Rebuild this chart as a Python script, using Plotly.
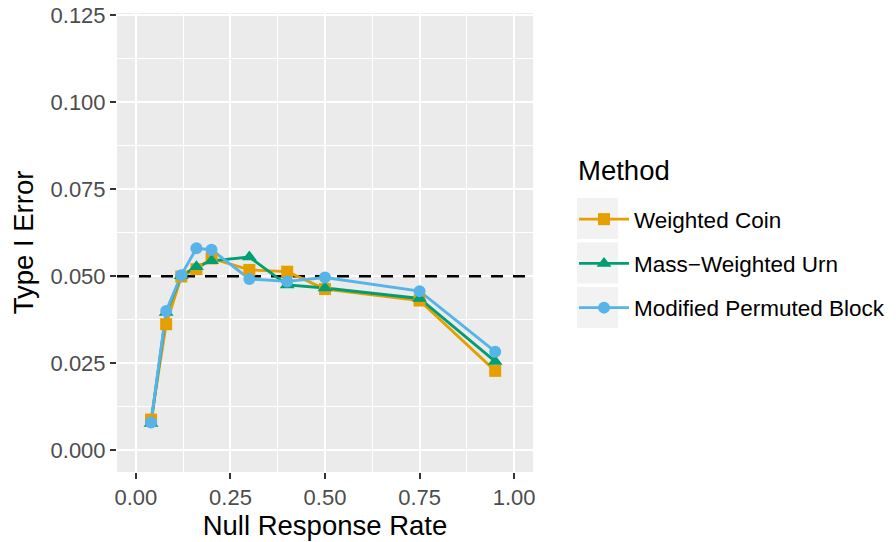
import plotly.graph_objects as go

# Null response rates evaluated in the simulation
null_rate = [0.04, 0.08, 0.12, 0.16, 0.20, 0.30, 0.40, 0.50, 0.75, 0.95]

# Estimated type I error for each randomization method
weighted_coin = [0.0088, 0.0362, 0.0499, 0.0520, 0.0551, 0.0518, 0.0513, 0.0463, 0.0430, 0.0228]
mass_weighted_urn = [0.0077, 0.0396, 0.0501, 0.0527, 0.0544, 0.0555, 0.0475, 0.0466, 0.0436, 0.0255]
modified_permuted_block = [0.0080, 0.0400, 0.0503, 0.0580, 0.0576, 0.0492, 0.0485, 0.0496, 0.0457, 0.0283]

methods = ["Weighted Coin", "Mass\u2212Weighted Urn", "Modified Permuted Block"]
series = [weighted_coin, mass_weighted_urn, modified_permuted_block]
colors = ["#E69F00", "#009E73", "#56B4E9"]
symbols = ["square", "triangle-up", "circle"]
marker_sizes = [12, 13, 12]

x_ticks = [0.0, 0.25, 0.5, 0.75, 1.0]
x_tick_text = ["0.00", "0.25", "0.50", "0.75", "1.00"]
y_ticks = [0.0, 0.025, 0.05, 0.075, 0.1, 0.125]
y_tick_text = ["0.000", "0.025", "0.050", "0.075", "0.100", "0.125"]
x_range = [-0.05, 1.05]
y_range = [-0.00625, 0.1256]
alpha_level = 0.05

FONT = "Liberation Sans, Arial, Helvetica, sans-serif"

fig = go.Figure()

# nominal significance level, drawn beneath the data
fig.add_trace(go.Scatter(x=x_range, y=[alpha_level, alpha_level], mode="lines",
                         line=dict(color="black", width=2.6, dash="12px,10px"),
                         showlegend=False, hoverinfo="skip"))

# connecting lines first, so every point sits above every line
for vals, col in zip(series, colors):
    fig.add_trace(go.Scatter(x=null_rate, y=vals, mode="lines",
                             line=dict(color=col, width=2.9),
                             showlegend=False, hoverinfo="skip"))

for name, vals, col, sym, ms in zip(methods, series, colors, symbols, marker_sizes):
    fig.add_trace(go.Scatter(x=null_rate, y=vals, mode="markers", name=name,
                             marker=dict(color=col, symbol=sym, size=ms, line=dict(width=0)),
                             showlegend=False))

# legend entries showing line + point keys
for i, (name, col, sym, ms) in enumerate(zip(methods, colors, symbols, marker_sizes)):
    fig.add_trace(go.Scatter(x=[None], y=[None], mode="lines+markers", name=name,
                             legendgroup=f"g{i}",
                             line=dict(color=col, width=2.9),
                             marker=dict(color=col, symbol=sym, size=ms, line=dict(width=0))))

# pixel -> paper conversion for elements outside the panel
L, R, T, B = 117, 533, 13, 472
W, H = R - L, B - T
def px_to_paper(xp, yp):
    return (xp - L) / W, (B - yp) / H

# grey key backgrounds behind the legend symbols
for top in [198, 242.5, 287]:
    x0, y0 = px_to_paper(577, top + 41)
    x1, y1 = px_to_paper(618, top)
    fig.add_shape(type="rect", xref="paper", yref="paper", x0=x0, x1=x1, y0=y0, y1=y1,
                  fillcolor="#F2F2F2", line=dict(width=0), layer="below")

tx, ty = px_to_paper(576, 170)
fig.add_annotation(text="Method", xref="paper", yref="paper", x=tx, y=ty,
                   xanchor="left", yanchor="middle", showarrow=False,
                   font=dict(size=27.5, color="black", family=FONT))

lx, ly = px_to_paper(574, 198)

fig.update_layout(
    width=896, height=542,
    margin=dict(l=L, r=896 - R, t=T, b=542 - B, autoexpand=False),
    paper_bgcolor="white", plot_bgcolor="#EBEBEB",
    font=dict(family=FONT, size=22, color="#4D4D4D"),
    showlegend=True,
    legend=dict(font=dict(size=22.5, color="black"),
                x=lx, y=ly, xanchor="left", yanchor="top", itemwidth=50,
                bgcolor="rgba(0,0,0,0)", tracegroupgap=12),
    xaxis=dict(range=x_range, tickvals=x_ticks, ticktext=x_tick_text,
               showgrid=True, gridcolor="white", gridwidth=2.2,
               minor=dict(dtick=0.125, tick0=0.125, showgrid=True, gridcolor="white", gridwidth=1.1),
               ticks="outside", ticklen=6, tickwidth=2, tickcolor="#333333",
               zeroline=False, showline=False,
               tickfont=dict(size=22, color="#4D4D4D"),
               title=dict(text="Null Response Rate", font=dict(size=27.5, color="black"), standoff=3)),
    yaxis=dict(range=y_range, tickvals=y_ticks, ticktext=y_tick_text,
               showgrid=True, gridcolor="white", gridwidth=2.2,
               minor=dict(dtick=0.0125, tick0=0.0125, showgrid=True, gridcolor="white", gridwidth=1.1),
               ticks="outside", ticklen=6, tickwidth=2, tickcolor="#333333",
               zeroline=False, showline=False,
               tickfont=dict(size=22, color="#4D4D4D"),
               title=dict(text="Type I Error", font=dict(size=27.5, color="black"), standoff=8)),
)

fig.write_html("out.html")
